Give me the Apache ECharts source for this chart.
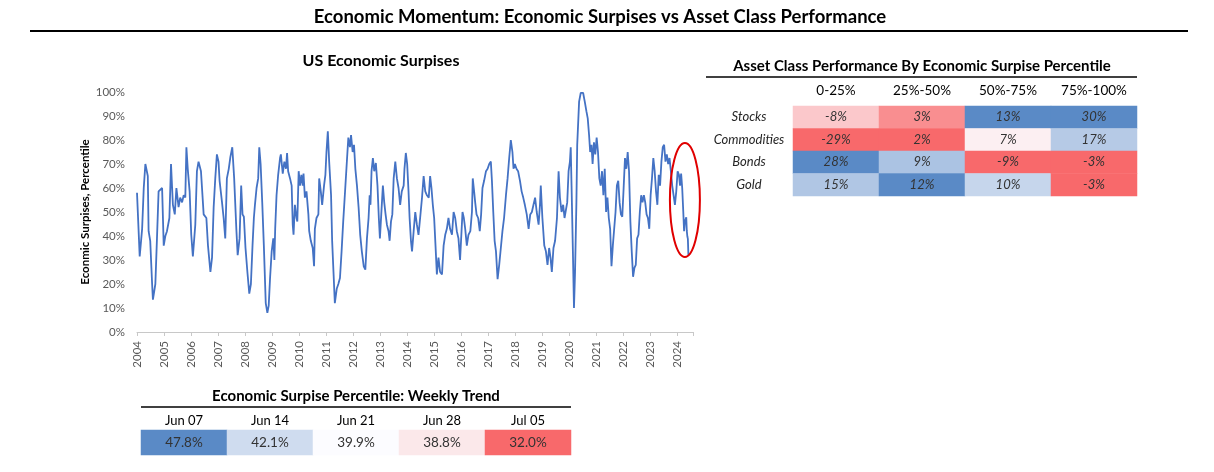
<!DOCTYPE html>
<html>
<head>
<meta charset="utf-8">
<title>Economic Momentum</title>
<script src="https://cdn.jsdelivr.net/npm/echarts@6/dist/echarts.min.js"></script>
<style>
  html, body { margin: 0; padding: 0; background: #fff; }
  #chart { width: 1214px; height: 472px; }
</style>
</head>
<body>
<div id="chart"></div>
<script>
// US economic surprises, percentile
var years = [
  2004.00,2004.10,2004.19,2004.25,2004.31,2004.37,2004.40,2004.43,2004.49,2004.56,2004.59,2004.68,2004.74,2004.80,2004.93,2004.99,
  2005.05,2005.11,2005.20,2005.26,2005.33,2005.40,2005.46,2005.54,2005.60,2005.67,2005.73,2005.79,2005.83,2005.88,2005.95,
  2006.01,2006.07,2006.16,2006.22,2006.28,2006.37,2006.47,2006.57,2006.63,2006.72,2006.78,2006.84,2006.90,2006.96,
  2007.02,2007.06,2007.15,2007.21,2007.27,2007.33,2007.40,2007.46,2007.53,2007.60,2007.68,2007.73,2007.80,2007.86,2007.91,2007.96,
  2008.02,2008.09,2008.16,2008.22,2008.28,2008.33,2008.37,2008.43,2008.49,2008.53,2008.58,2008.64,2008.70,2008.77,2008.83,2008.88,2008.93,2008.99,
  2009.05,2009.09,2009.12,2009.17,2009.23,2009.30,2009.33,2009.40,2009.46,2009.52,2009.56,2009.60,2009.67,2009.73,2009.77,2009.80,2009.85,2009.91,2009.94,2009.99,
  2010.04,2010.09,2010.14,2010.17,2010.22,2010.28,2010.35,2010.38,2010.44,2010.51,2010.56,2010.59,2010.65,2010.72,2010.75,2010.81,2010.86,2010.93,2010.98,
  2011.02,2011.07,2011.12,2011.19,2011.23,2011.28,2011.33,2011.40,2011.46,2011.52,2011.58,2011.64,2011.70,2011.77,2011.83,2011.89,2011.93,2011.99,
  2012.04,2012.09,2012.15,2012.21,2012.27,2012.33,2012.40,2012.46,2012.52,2012.58,2012.62,2012.65,2012.69,2012.74,2012.79,2012.85,2012.91,2012.96,
  2013.00,2013.05,2013.11,2013.16,2013.21,2013.26,2013.32,2013.36,2013.41,2013.46,2013.51,2013.57,2013.63,2013.69,2013.75,2013.81,2013.88,2013.91,2013.96,
  2014.01,2014.06,2014.10,2014.15,2014.19,2014.25,2014.31,2014.37,2014.43,2014.49,2014.56,2014.62,2014.68,2014.74,2014.81,2014.86,2014.91,2014.96,
  2015.01,2015.06,2015.11,2015.17,2015.23,2015.30,2015.36,2015.42,2015.48,2015.54,2015.60,2015.67,2015.73,2015.79,2015.85,2015.91,2015.97,
  2016.06,2016.11,2016.16,2016.22,2016.28,2016.35,2016.41,2016.44,2016.49,2016.53,2016.58,2016.64,2016.70,2016.75,2016.80,2016.86,2016.93,2016.99,
  2017.05,2017.11,2017.15,2017.20,2017.25,2017.30,2017.36,2017.42,2017.48,2017.54,2017.60,2017.67,2017.73,2017.79,2017.85,2017.91,2017.95,
  2018.00,2018.06,2018.12,2018.19,2018.25,2018.31,2018.37,2018.44,2018.51,2018.57,2018.63,2018.69,2018.75,2018.81,2018.88,2018.93,2018.96,
  2019.02,2019.09,2019.15,2019.21,2019.27,2019.32,2019.37,2019.43,2019.49,2019.56,2019.62,2019.67,2019.73,2019.79,2019.84,2019.89,2019.94,2019.99,
  2020.04,2020.07,2020.10,2020.15,2020.19,2020.23,2020.28,2020.31,2020.38,2020.44,2020.53,2020.59,2020.65,2020.70,2020.75,2020.79,2020.84,2020.88,2020.93,2020.98,
  2021.03,2021.08,2021.13,2021.18,2021.23,2021.28,2021.33,2021.38,2021.43,2021.48,2021.53,2021.58,2021.63,2021.68,2021.73,2021.78,2021.83,2021.88,2021.93,2021.98,
  2022.03,2022.08,2022.13,2022.18,2022.23,2022.28,2022.33,2022.38,2022.43,2022.48,2022.53,2022.58,2022.63,2022.68,2022.73,2022.78,2022.83,2022.88,2022.93,2022.98,
  2023.03,2023.08,2023.13,2023.18,2023.23,2023.28,2023.33,2023.38,2023.43,2023.48,2023.53,2023.58,2023.63,2023.68,2023.73,2023.78,2023.83,2023.88,2023.93,2023.98,
  2024.03,2024.08,2024.12,2024.16,2024.20,2024.24,2024.27,2024.30,2024.35,2024.37,2024.39,2024.41,2024.43
];
var surprise = [
  58,31.5,43,60,70,70,65,42,38,20,13.5,20,39,58.6,60,36,
  40,42,47.5,70,53,49,60,52,56,54,57,56,77,68,58.6,
  40.5,31.5,44.7,67,71,67,49,47.5,36,25,31,52,64,74,
  71,63,54,47.5,39,64,68,73,77,64,43,32,39,61,49,48,
  35,25,16,20,36,47.5,53,60,64,77,70,54,36,12,8,11,22.5,33.6,
  39,30,43,57,65.5,72.5,74,66,71,68,74.6,67,64,61,44.7,40.5,53,47.5,46,67,
  61,65.5,61,66,56,58.6,49,42,38,35,27.4,43,47.5,49,64,58.6,53,61,65.5,
  75,83.6,71,57,38,25,12,18,20,22.5,33.6,46,57,70,81,77,82,75,
  78,68,61,52,40.5,33.6,27.4,26,39,47.5,57,53,67,72.5,67,70.4,61,47.5,
  39,49,61,54,49,44.7,42,38,46,49,64,71,64,60,53,58.6,61,68,74.6,
  70,58.6,47.5,38,33.6,42,50,44.7,40.5,47.5,56,65,58.6,57,56,65,60,53,
  47.5,36,24,31,25,24,36,40.5,43,47.5,43,40.5,50,47.5,42,39,30,
  50,47.5,43,36,40.5,42,50,64,58.6,54,49,47.5,42,49,60,63,67,68,
  70,71,63,50,38,33.6,22,28,35,42,47.5,57,64,72.5,80,75,68,
  70,68,67,63,58.6,56,53,49,43,49,50,53,56,50,44.7,53,61,
  47.5,36,33.6,28,35,31,25,35,38,47.5,67,56,50,53,47.5,47,54,67,
  71,77,61,33.6,10,25,54,78,96,99.6,99.6,96,92,89,82,75,78,70,79,74,
  81,75,64,61,67,57,68,50,56,47.5,43,27.4,36,43,50,61,63,54,49,48,
  60,72.5,68,75,67,46,33.6,23,26.7,28,39,40.5,50,57,54,57,54,49,47.5,43,
  57,64,72.5,67,58.6,53,65.5,61,71,77,78,71,74,70,72.5,67,61,57,53,58.6,
  67,65.5,61,66,60,50,42,46,47.8,42.1,39.9,38.8,32.0
];

// asset class performance by surprise percentile bucket
var buckets = ['0-25%', '25%-50%', '50%-75%', '75%-100%'];
var assets = ['Stocks', 'Commodities', 'Bonds', 'Gold'];
var stocksPerf = [-8, 3, 13, 30];
var commoditiesPerf = [-29, 2, 7, 17];
var bondsPerf = [28, 9, -9, -3];
var goldPerf = [15, 12, 10, -3];

// weekly trend
var weeks = ['Jun 07', 'Jun 14', 'Jun 21', 'Jun 28', 'Jul 05'];
var weekValues = [47.8, 42.1, 39.9, 38.8, 32.0];

var FONT = 'Lato, "Open Sans", sans-serif';
var RED = [248, 105, 107], WHITE = [252, 252, 255], BLUE = [90, 138, 198];

function median(arr) {
  var s = arr.slice().sort(function (a, b) { return a - b; });
  var m = Math.floor(s.length / 2);
  return s.length % 2 ? s[m] : (s[m - 1] + s[m]) / 2;
}
// excel style 3 colour scale: red (min) - white (50th pct) - blue (max)
function scaleColor(v, arr) {
  var lo = Math.min.apply(null, arr), hi = Math.max.apply(null, arr), mid = median(arr);
  var a, b, t;
  if (v <= mid) { a = RED; b = WHITE; t = mid === lo ? 1 : (v - lo) / (mid - lo); }
  else { a = WHITE; b = BLUE; t = hi === mid ? 0 : (v - mid) / (hi - mid); }
  var c = a.map(function (x, i) { return Math.round(x + (b[i] - x) * t); });
  return 'rgb(' + c.join(',') + ')';
}

var perfRows = [stocksPerf, commoditiesPerf, bondsPerf, goldPerf];
var perfData = [];
buckets.forEach(function (b, ci) {
  var col = perfRows.map(function (r) { return r[ci]; });
  perfRows.forEach(function (r, ri) {
    perfData.push({ value: [ci, ri, r[ci]], itemStyle: { color: scaleColor(r[ci], col) } });
  });
});
var weekData = weekValues.map(function (v, i) {
  return { value: [i, 0, v], itemStyle: { color: scaleColor(v, weekValues) } };
});

var chart = echarts.init(document.getElementById('chart'));
chart.setOption({
  backgroundColor: '#fff',
  animation: false,
  textStyle: { fontFamily: FONT },
  grid: [
    { left: 137, top: 92, width: 556, height: 240 },
    { left: 793, top: 106, width: 344, height: 90 },
    { left: 141, top: 430, width: 430, height: 25 }
  ],
  xAxis: [
    {
      type: 'value', gridIndex: 0, min: 2004, max: 2024.6, interval: 1,
      splitLine: { show: false },
      axisLine: { lineStyle: { color: '#c8c8c8' } },
      axisTick: { length: 4, lineStyle: { color: '#c8c8c8' } },
      axisLabel: {
        rotate: 90, color: '#595959', fontSize: 11.5, margin: 9,
        formatter: function (v) { return Number.isInteger(v) ? String(v) : ''; }
      }
    },
    {
      type: 'category', gridIndex: 1, data: buckets, position: 'top',
      axisLine: { show: false }, axisTick: { show: false },
      axisLabel: { color: '#000', fontSize: 13.5, margin: 8 }
    },
    {
      type: 'category', gridIndex: 2, data: weeks, position: 'top',
      axisLine: { show: false }, axisTick: { show: false },
      axisLabel: { color: '#000', fontSize: 13, margin: 3 }
    }
  ],
  yAxis: [
    {
      type: 'value', gridIndex: 0, min: 0, max: 100, interval: 10,
      splitLine: { show: false }, axisLine: { show: false }, axisTick: { show: false },
      axisLabel: { color: '#595959', fontSize: 11.5, margin: 12, formatter: '{value}%' },
      name: 'Econmic Surpises, Percentile', nameLocation: 'middle', nameGap: 46,
      nameTextStyle: { color: '#000', fontWeight: 'bold', fontSize: 11.5 }
    },
    {
      type: 'category', gridIndex: 1, data: assets, inverse: true,
      axisLine: { show: false }, axisTick: { show: false },
      axisLabel: { color: '#262626', fontSize: 13, fontStyle: 'italic', align: 'center', margin: 44 }
    },
    {
      type: 'category', gridIndex: 2, data: [''],
      axisLine: { show: false }, axisTick: { show: false }, axisLabel: { show: false }
    }
  ],
  series: [
    {
      type: 'line', xAxisIndex: 0, yAxisIndex: 0,
      data: years.map(function (x, i) { return [x, surprise[i]]; }),
      showSymbol: false, lineStyle: { color: '#4472c4', width: 1.8 }
    },
    {
      type: 'heatmap', xAxisIndex: 1, yAxisIndex: 1, data: perfData,
      label: {
        show: true, fontStyle: 'italic', fontSize: 13, color: '#333',
        formatter: function (p) { return p.value[2] + '%'; }
      }
    },
    {
      type: 'heatmap', xAxisIndex: 2, yAxisIndex: 2, data: weekData,
      label: {
        show: true, fontSize: 13.5, color: '#333',
        formatter: function (p) { return p.value[2].toFixed(1) + '%'; }
      }
    }
  ],
  graphic: [
    { id: 'mainTitle', type: 'text', style: { text: 'Economic Momentum: Economic Surpises vs Asset Class Performance', x: 600, y: 17, align: 'center', verticalAlign: 'middle', font: 'bold 18.5px ' + FONT, fill: '#000' } },
    { id: 'mainRule', type: 'line', shape: { x1: 30, y1: 31, x2: 1188, y2: 31 }, style: { stroke: '#000', lineWidth: 2 } },
    { id: 'lineTitle', type: 'text', style: { text: 'US Economic Surpises', x: 381, y: 61, align: 'center', verticalAlign: 'middle', font: 'bold 16px ' + FONT, fill: '#000' } },
    { id: 'perfTitle', type: 'text', style: { text: 'Asset Class Performance By Economic Surpise Percentile', x: 922, y: 66, align: 'center', verticalAlign: 'middle', font: 'bold 15px ' + FONT, fill: '#000' } },
    { id: 'perfRule', type: 'line', shape: { x1: 706, y1: 77, x2: 1137, y2: 77 }, style: { stroke: '#000', lineWidth: 1.5 } },
    { id: 'weekTitle', type: 'text', style: { text: 'Economic Surpise Percentile: Weekly Trend', x: 356, y: 396, align: 'center', verticalAlign: 'middle', font: 'bold 15px ' + FONT, fill: '#000' } },
    { id: 'weekRule', type: 'line', shape: { x1: 141, y1: 407, x2: 571, y2: 407 }, style: { stroke: '#000', lineWidth: 1.5 } }
  ]
});

// red ring round the latest readings
var c = chart.convertToPixel({ xAxisIndex: 0, yAxisIndex: 0 }, [2024.3, 55]);
chart.setOption({
  graphic: [{
    id: 'ring', type: 'ellipse', shape: { cx: c[0], cy: c[1], rx: 15, ry: 57 },
    style: { fill: 'none', stroke: '#e00000', lineWidth: 2 }, z: 10
  }]
});
</script>
</body>
</html>
